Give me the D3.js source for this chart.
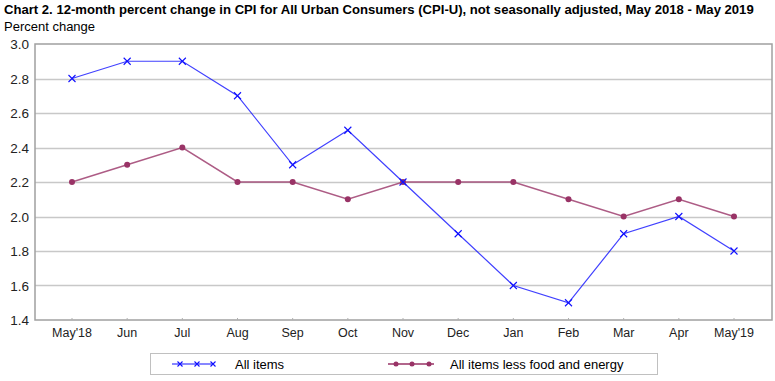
<!DOCTYPE html>
<html>
<head>
<meta charset="utf-8">
<script src="https://cdn.jsdelivr.net/npm/d3@7"></script>
<style>
  body { margin: 0; background: #fff; }
  text { font-family: Arial, "Liberation Sans", sans-serif; }
</style>
</head>
<body>
<div class="canvas"></div>
<script>
const months = ["May'18", "Jun", "Jul", "Aug", "Sep", "Oct", "Nov", "Dec", "Jan", "Feb", "Mar", "Apr", "May'19"];
const allItems = [2.8, 2.9, 2.9, 2.7, 2.3, 2.5, 2.2, 1.9, 1.6, 1.5, 1.9, 2.0, 1.8];
const coreItems = [2.2, 2.3, 2.4, 2.2, 2.2, 2.1, 2.2, 2.2, 2.2, 2.1, 2.0, 2.1, 2.0];
const yTicks = [1.4, 1.6, 1.8, 2.0, 2.2, 2.4, 2.6, 2.8, 3.0];

const svg = d3.select('.canvas')
  .append('svg')
  .attr('width', 775)
  .attr('height', 381);

const plotL = 35, plotR = 772, plotT = 44, plotB = 320;

const x = d3.scalePoint()
  .domain(months)
  .range([72, 734]);

const y = d3.scaleLinear()
  .domain([1.4, 3.0])
  .range([plotB, plotT]);

// title
svg.append('text')
  .attr('x', 4).attr('y', 14)
  .attr('font-size', 13.1)
  .attr('font-weight', 'bold')
  .text('Chart 2. 12-month percent change in CPI for All Urban Consumers (CPI-U), not seasonally adjusted, May 2018 - May 2019');

svg.append('text')
  .attr('x', 4).attr('y', 31)
  .attr('font-size', 13)
  .text('Percent change');

// grid
svg.selectAll('.grid')
  .data(yTicks.slice(1, -1))
  .enter()
  .append('line')
  .attr('x1', plotL).attr('x2', plotR)
  .attr('y1', d => Math.round(y(d)) + 0.5)
  .attr('y2', d => Math.round(y(d)) + 0.5)
  .attr('stroke', '#c8c8c8')
  .attr('stroke-width', 1.5);

// plot border
svg.append('rect')
  .attr('x', plotL).attr('y', plotT)
  .attr('width', plotR - plotL).attr('height', plotB - plotT)
  .attr('fill', 'none')
  .attr('stroke', '#a0a0a0')
  .attr('stroke-width', 1.5);

// y labels
svg.selectAll('.ylab')
  .data(yTicks)
  .enter()
  .append('text')
  .attr('x', 29)
  .attr('y', d => y(d) + 5)
  .attr('text-anchor', 'end')
  .attr('font-size', 13.5)
  .attr('fill', '#222')
  .text(d => d.toFixed(1));

// x ticks + labels
svg.selectAll('.xtick')
  .data(months)
  .enter()
  .append('line')
  .attr('x1', d => x(d)).attr('x2', d => x(d))
  .attr('y1', plotB).attr('y2', plotB - 2)
  .attr('stroke', '#b0b0b0');

svg.selectAll('.xlab')
  .data(months)
  .enter()
  .append('text')
  .attr('x', d => x(d))
  .attr('y', plotB + 17)
  .attr('text-anchor', 'middle')
  .attr('font-size', 12.5)
  .attr('fill', '#222')
  .text(d => d);

const line = d3.line()
  .x((d, i) => x(months[i]))
  .y(d => y(d));

const blue = '#1010ff', purple = '#993366';

// core line
svg.append('path')
  .datum(coreItems)
  .attr('d', line)
  .attr('fill', 'none')
  .attr('stroke', purple)
  .attr('stroke-opacity', 0.8)
  .attr('stroke-width', 1.5);

svg.selectAll('.dot')
  .data(coreItems)
  .enter()
  .append('circle')
  .attr('cx', (d, i) => x(months[i]))
  .attr('cy', d => y(d))
  .attr('r', 3)
  .attr('fill', purple);

// all items line
svg.append('path')
  .datum(allItems)
  .attr('d', line)
  .attr('fill', 'none')
  .attr('stroke', blue)
  .attr('stroke-opacity', 0.8)
  .attr('stroke-width', 1.2);

const cross = (sel, cx, cy, s) => {
  sel.append('path')
    .attr('d', `M${cx - s},${cy - s}L${cx + s},${cy + s}M${cx - s},${cy + s}L${cx + s},${cy - s}`)
    .attr('stroke', blue)
    .attr('stroke-width', 1.1);
};

allItems.forEach((d, i) => cross(svg, x(months[i]), y(d), 3.5));

// legend
const legend = svg.append('g');
legend.append('rect')
  .attr('x', 150.5).attr('y', 353.5)
  .attr('width', 507).attr('height', 21)
  .attr('fill', 'none')
  .attr('stroke', '#c0c0c0');

legend.append('line')
  .attr('x1', 172).attr('x2', 214)
  .attr('y1', 364).attr('y2', 364)
  .attr('stroke', blue).attr('stroke-width', 1.2);
[180, 197, 213].forEach(cx => cross(legend, cx, 364, 2.5));
legend.append('text')
  .attr('x', 235).attr('y', 368.5)
  .attr('font-size', 13)
  .text('All items');

legend.append('line')
  .attr('x1', 388).attr('x2', 434)
  .attr('y1', 364).attr('y2', 364)
  .attr('stroke', purple).attr('stroke-width', 1.5);
[396, 412, 429].forEach(cx => legend.append('circle')
  .attr('cx', cx).attr('cy', 364).attr('r', 2.5).attr('fill', purple));
legend.append('text')
  .attr('x', 450).attr('y', 368.5)
  .attr('font-size', 13)
  .text('All items less food and energy');
</script>
</body>
</html>
